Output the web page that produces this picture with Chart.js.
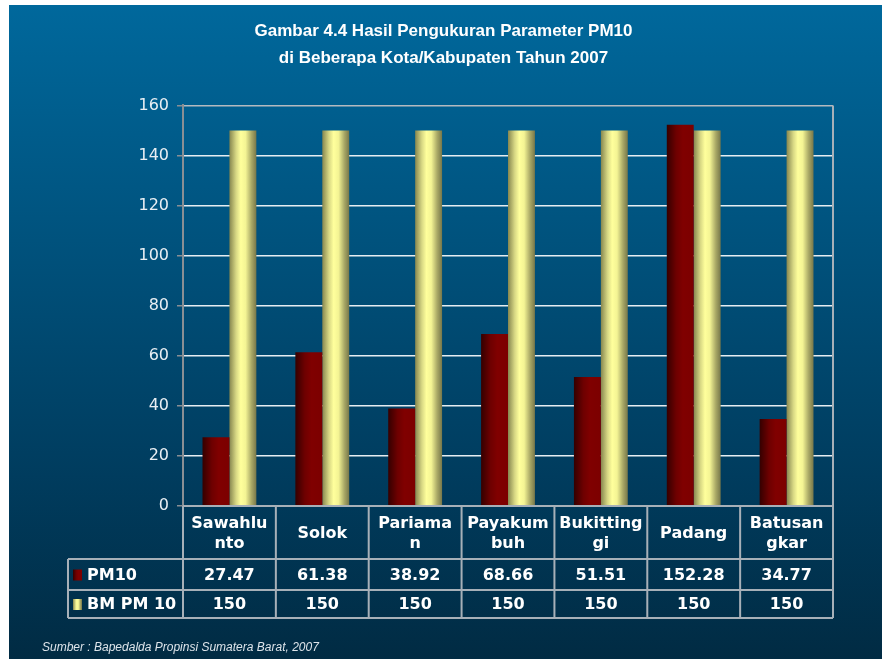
<!DOCTYPE html>
<html>
<head>
<meta charset="utf-8">
<script src="https://cdn.jsdelivr.net/npm/chart.js@4"></script>
<style>
  html, body { margin: 0; padding: 0; background: #fff; }
  canvas { display: block; }
</style>
</head>
<body>
<canvas id="chart1" width="882" height="659"></canvas>
<script>
// Chart Data
const categories = [['Sawahlu', 'nto'], ['Solok'], ['Pariama', 'n'], ['Payakum', 'buh'], ['Bukitting', 'gi'], ['Padang'], ['Batusan', 'gkar']];
const pm10 = [27.47, 61.38, 38.92, 68.66, 51.51, 152.28, 34.77];
const bmPm10 = [150, 150, 150, 150, 150, 150, 150];
const yMax = 160;
const yStep = 20;
const source = 'Sumber : Bapedalda Propinsi Sumatera Barat, 2007';

const catPct = 0.58;
const redStops = [[0, '#340000'], [0.35, '#6e0000'], [0.6, '#800000'], [1, '#7c0000']];
const yellowStops = [[0, '#86864f'], [0.25, '#d8d884'], [0.42, '#ffff9c'], [0.6, '#f4f494'], [0.82, '#a9a866'], [1, '#77774a']];

// horizontal gradient across each bar so it looks like a cylinder
function cylinder(c, stops) {
    const chart = c.chart;
    const x = chart.scales.x;
    if (c.type !== 'data' || !x) return stops[2][1];
    const group = x.width / categories.length * catPct;
    const w = group / 2;
    const left = x.getPixelForValue(c.dataIndex) - group / 2 + c.datasetIndex * w;
    if (!Number.isFinite(left) || !Number.isFinite(w) || w <= 0) return stops[2][1];
    const g = chart.ctx.createLinearGradient(left, 0, left + w, 0);
    stops.forEach(([p, col]) => g.addColorStop(p, col));
    return g;
}

function swatch(ctx, x, y, w, h, stops) {
    const g = ctx.createLinearGradient(x, 0, x + w, 0);
    stops.forEach(([p, col]) => g.addColorStop(p, col));
    ctx.fillStyle = g;
    ctx.fillRect(x, y, w, h);
}

const background = {
    id: 'background',
    beforeDraw(chart) {
        const ctx = chart.ctx;
        const g = ctx.createLinearGradient(0, 5, 0, chart.height);
        g.addColorStop(0, '#00689c');
        g.addColorStop(0.72, '#003c5e');
        g.addColorStop(1, '#012b43');
        ctx.save();
        ctx.fillStyle = g;
        ctx.fillRect(9, 5, chart.width - 9, chart.height - 5);
        ctx.restore();
    }
};

// data table under the plot, lined up with the category scale
const dataTable = {
    id: 'dataTable',
    afterDraw(chart) {
        const ctx = chart.ctx;
        const a = chart.chartArea;
        const x = chart.scales.x;
        const n = categories.length;
        const colW = x.width / n;
        const rows = [a.bottom, a.bottom + 53, a.bottom + 84, a.bottom + 112];
        const legendLeft = 68;
        const sets = chart.data.datasets;

        ctx.save();
        ctx.strokeStyle = '#a7b0b8';
        ctx.lineWidth = 2;
        ctx.beginPath();
        // right edge of plot and table
        ctx.moveTo(a.right, a.top);
        ctx.lineTo(a.right, rows[3]);
        for (let i = 0; i < n; i++) {
            const l = x.left + i * colW;
            ctx.moveTo(l, rows[0]);
            ctx.lineTo(l, rows[3]);
        }
        ctx.moveTo(a.left, rows[0]);
        ctx.lineTo(a.right, rows[0]);
        for (let r = 1; r < rows.length; r++) {
            ctx.moveTo(legendLeft, rows[r]);
            ctx.lineTo(a.right, rows[r]);
        }
        ctx.moveTo(legendLeft, rows[1]);
        ctx.lineTo(legendLeft, rows[3]);
        ctx.stroke();

        ctx.fillStyle = '#ffffff';
        ctx.font = 'bold 16px "DejaVu Sans"';
        ctx.textAlign = 'center';
        ctx.textBaseline = 'middle';
        categories.forEach((lines, i) => {
            const cx = x.getPixelForValue(i);
            const mid = (rows[0] + rows[1]) / 2 + 1;
            lines.forEach((t, k) => {
                const y = mid + (k - (lines.length - 1) / 2) * 20;
                ctx.fillText(t, cx, y);
            });
        });

        sets.forEach((ds, r) => {
            const y = (rows[r + 1] + rows[r + 2]) / 2 + 1;
            ctx.fillStyle = '#ffffff';
            ctx.textAlign = 'center';
            ds.data.forEach((v, i) => ctx.fillText(String(v), x.getPixelForValue(i), y));
            swatch(ctx, legendLeft + 5, y - 6, 9, 11, r === 0 ? redStops : yellowStops);
            ctx.fillStyle = '#ffffff';
            ctx.textAlign = 'left';
            ctx.fillText(ds.label, legendLeft + 19, y);
        });

        ctx.font = 'italic 12px "Liberation Sans"';
        ctx.fillStyle = '#dde4ea';
        ctx.textAlign = 'left';
        ctx.fillText(source, 42, 648);
        ctx.restore();
    }
};

const ctx = document.getElementById('chart1').getContext('2d');
const chart1 = new Chart(ctx, {
    type: 'bar',
    data: {
        labels: categories,
        datasets: [
            {
                label: 'PM10',
                data: pm10,
                backgroundColor: c => cylinder(c, redStops),
            },
            {
                label: 'BM PM 10',
                data: bmPm10,
                backgroundColor: c => cylinder(c, yellowStops),
            }
        ],
    },
    options: {
        responsive: false,
        animation: false,
        events: [],
        categoryPercentage: catPct,
        barPercentage: 1,
        layout: {
            padding: { left: 5, right: 0, top: 0, bottom: 153 },
        },
        scales: {
            x: {
                display: false,
            },
            y: {
                min: 0,
                max: yMax,
                afterFit(scale) { scale.width = 178; },
                ticks: {
                    stepSize: yStep,
                    color: '#e8eef3',
                    padding: 8,
                    font: { family: '"DejaVu Sans"', size: 16 },
                },
                grid: {
                    color: c => (c.tick && (c.tick.value === yMax || c.tick.value === 0)) ? '#b4bac0' : '#e6edf2',
                    lineWidth: 1.5,
                    tickLength: 6,
                    tickColor: '#8a8f94',
                },
                border: { color: '#8a8f94', width: 2 },
            },
            // empty right axis, only reserves the margin beside the plot
            y2: {
                position: 'right',
                afterFit(scale) { scale.width = 49; },
                ticks: { display: false },
                grid: { display: false },
                border: { display: false },
            },
        },
        plugins: {
            legend: { display: false },
            tooltip: { enabled: false },
            title: {
                display: true,
                text: ['Gambar 4.4 Hasil Pengukuran Parameter PM10', 'di Beberapa Kota/Kabupaten Tahun 2007'],
                color: '#ffffff',
                font: { family: '"Liberation Sans"', size: 17, weight: 'bold', lineHeight: 1.6 },
                padding: { top: 18, bottom: 33 },
            },
        },
    },
    plugins: [background, dataTable],
});
</script>
</body>
</html>
